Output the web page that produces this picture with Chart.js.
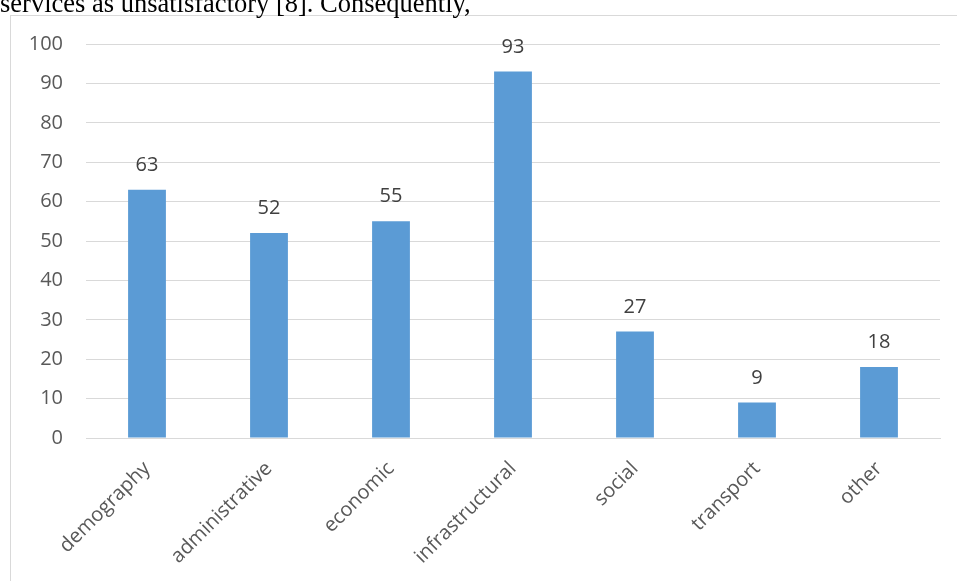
<!DOCTYPE html>
<html>
<head>
<meta charset="utf-8">
<script src="https://cdn.jsdelivr.net/npm/chart.js@4/dist/chart.umd.min.js"></script>
<style>
  html, body { margin: 0; padding: 0; background: #ffffff; overflow: hidden; }
  #page { position: relative; width: 957px; height: 581px; }
  #lead {
    position: absolute; left: 0; top: -10px; z-index: 2;
    font-family: "Liberation Serif", "Times New Roman", serif;
    font-size: 26.5px; line-height: 26.5px; color: #000; white-space: nowrap;
  }
  #frame {
    position: absolute; left: 10px; top: 15px; width: 960px; height: 580px;
    border: 1px solid #d9d9d9; box-sizing: border-box; background: #fff;
  }
  #wrap { position: absolute; left: 0; top: 0; width: 957px; height: 581px; z-index: 1; }
</style>
</head>
<body>
<div id="page">
  <div id="frame"></div>
  <div id="lead">services as unsatisfactory [8]. Consequently,</div>
  <div id="wrap"><canvas id="chart" width="957" height="581"></canvas></div>
</div>
<script>
// Categories and counts
const categories = ["demography", "administrative", "economic", "infrastructural", "social", "transport", "other"];
const counts = [63, 52, 55, 93, 27, 9, 18];
const yTicks = [0, 10, 20, 30, 40, 50, 60, 70, 80, 90, 100];

const FONT = "'Open Sans', 'Noto Sans', sans-serif";

// Draws each bar's value above it
const valueLabels = {
  id: "valueLabels",
  afterDatasetsDraw(chart) {
    const ctx = chart.ctx;
    const meta = chart.getDatasetMeta(0);
    ctx.save();
    ctx.font = "20px " + FONT;
    ctx.fillStyle = "#404040";
    ctx.textAlign = "center";
    ctx.textBaseline = "alphabetic";
    meta.data.forEach((bar, i) => {
      ctx.fillText(String(counts[i]), bar.x, bar.y - 19);
    });
    ctx.restore();
  }
};

new Chart(document.getElementById("chart"), {
  type: "bar",
  data: {
    labels: categories,
    datasets: [{
      data: counts,
      backgroundColor: "#5b9bd5",
      borderWidth: 0,
      categoryPercentage: 1,
      barPercentage: 0.31
    }]
  },
  options: {
    responsive: false,
    animation: false,
    devicePixelRatio: 1,
    layout: { padding: { top: 44, right: 17, left: 0, bottom: 0 } },
    plugins: { legend: { display: false }, tooltip: { enabled: false } },
    scales: {
      x: {
        grid: { display: false, drawTicks: false },
        border: { display: true, color: "#d9d9d9", width: 1 },
        ticks: {
          color: "#595959",
          font: { family: FONT, size: 20 },
          minRotation: 45, maxRotation: 45,
          padding: 19, autoSkip: false
        },
        afterFit(scale) { scale.height = 143; }
      },
      y: {
        min: 0, max: 100,
        afterBuildTicks(scale) { scale.ticks = yTicks.map(v => ({ value: v })); },
        grid: { color: "#d9d9d9", lineWidth: 1, drawTicks: false },
        border: { display: false },
        ticks: {
          color: "#595959",
          font: { family: FONT, size: 20 },
          padding: 23
        },
        afterFit(scale) { scale.width = 86; }
      }
    }
  },
  plugins: [valueLabels]
});
</script>
</body>
</html>
